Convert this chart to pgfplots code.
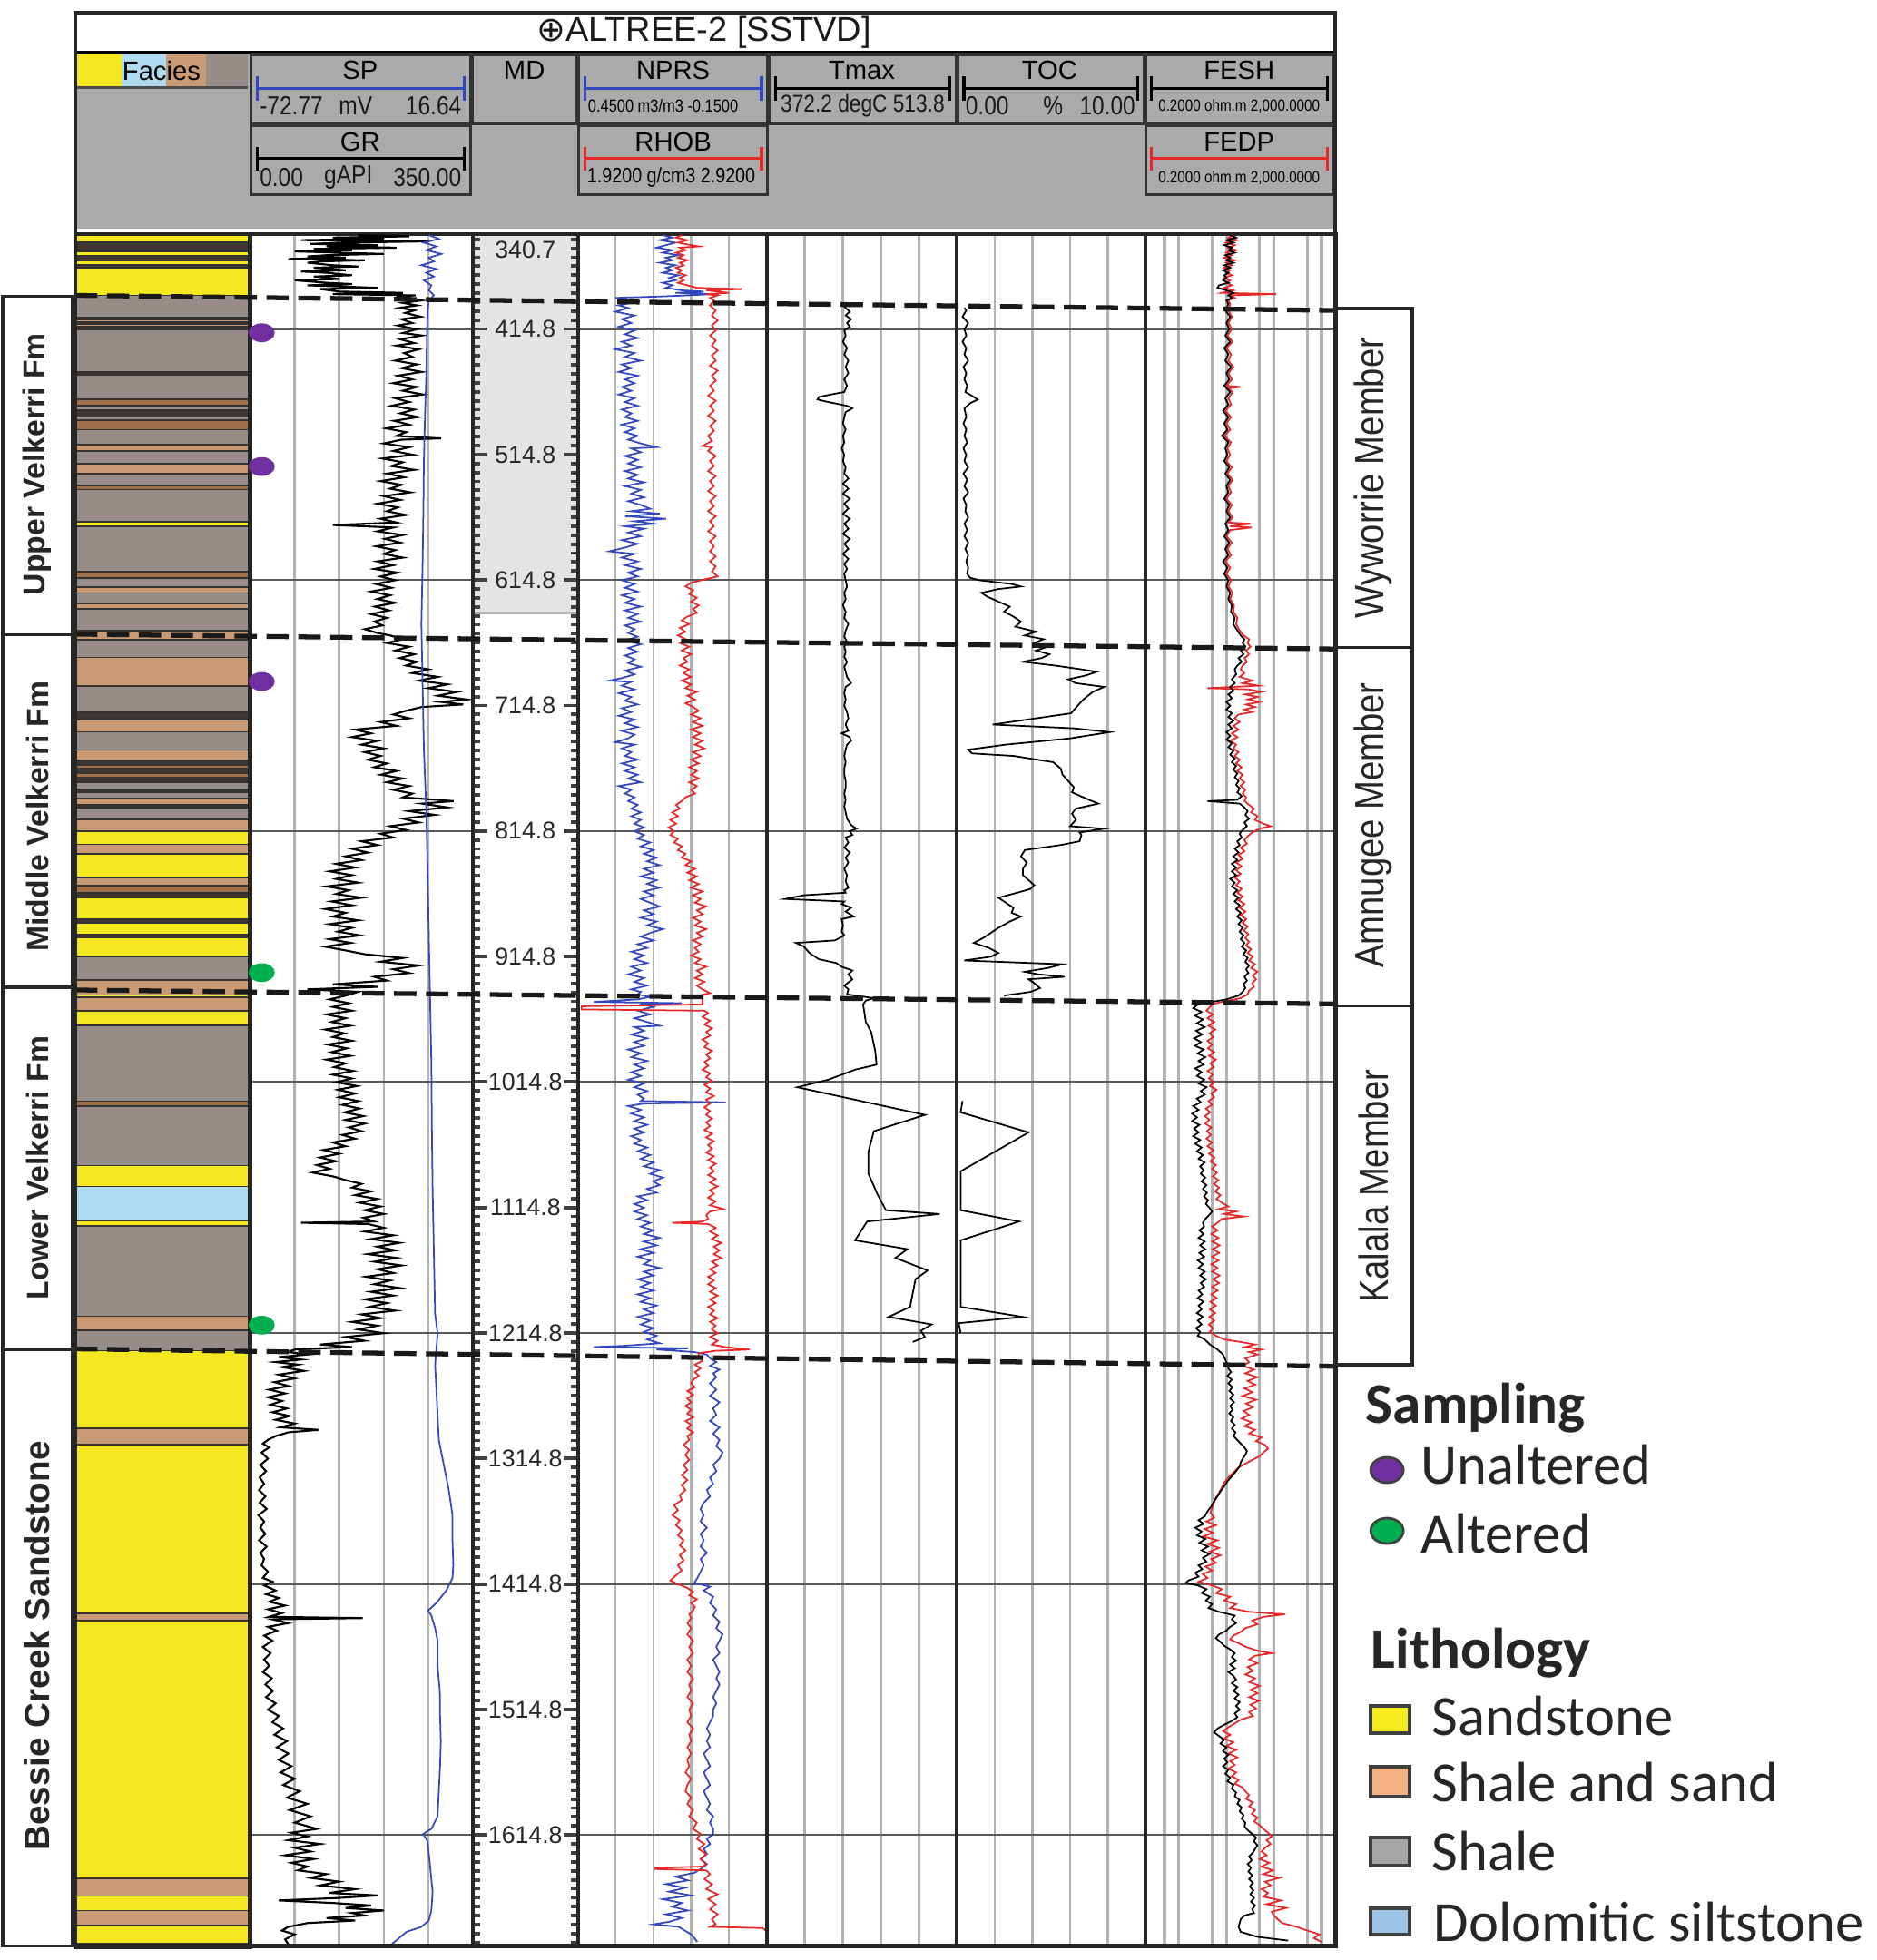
\documentclass[border=0pt]{standalone}
\usepackage{fontspec}
\setmainfont{Liberation Sans}
\newfontfamily\legfont{Carlito}
\newfontfamily\symfont{DejaVu Sans}
\newfontfamily\nar[FakeStretch=0.85]{Liberation Sans}
\usepackage{pgfplots}
\usepackage{pgfplotstable}
\pgfplotsset{compat=1.18}

\definecolor{hdgray}{RGB}{170,170,170}
\definecolor{gridlt}{RGB}{178,178,178}
\definecolor{mdgray}{RGB}{228,228,228}
\definecolor{cSand}{RGB}{245,232,30}
\definecolor{cTan}{RGB}{201,154,116}
\definecolor{cBrn}{RGB}{160,112,74}
\definecolor{cShl}{RGB}{150,141,137}
\definecolor{cDrk}{RGB}{62,54,48}
\definecolor{cDol}{RGB}{174,219,240}
\definecolor{cBlue}{RGB}{52,72,190}
\definecolor{cRed}{RGB}{232,40,40}
\definecolor{cPur}{RGB}{112,48,160}
\definecolor{cGrn}{RGB}{0,176,80}
\definecolor{lgSand}{RGB}{245,235,30}
\definecolor{lgSS}{RGB}{244,177,131}
\definecolor{lgShl}{RGB}{166,166,166}
\definecolor{lgDol}{RGB}{157,195,230}

\pgfplotsset{
  trk/.style={scale only axis, anchor=north west, height=18.878cm,
    y dir=reverse, ymin=339, ymax=1704,
    ytick={414.8,614.8,814.8,1014.8,1214.8,1414.8,1614.8},
    yticklabels={}, xticklabels={}, tick style={draw=none},
    xmajorgrids, ymajorgrids,
    x grid style={line width=0.7pt, color=gridlt},
    y grid style={line width=0.6pt, color=black!65},
    axis line style={line width=1.1pt, color=black!85}},
  ovl/.style={scale only axis, anchor=north west, height=18.878cm,
    y dir=reverse, ymin=339, ymax=1704, hide axis},
}
\newcommand{\lay}[3]{\addplot[fill=#1, draw=black!80, line width=0.5pt] coordinates {(0,#2) (1,#2) (1,#3) (0,#3)} -- cycle;}
\newcommand{\hdbox}[4]{\draw[fill=hdgray, draw=black!80, line width=0.9pt] (#1,#2) rectangle (#3,#4);}
\newcommand{\hdf}{\fontsize{8.3}{9}\selectfont}
\newcommand{\scf}{\nar\fontsize{8.2}{10}\selectfont}
\newcommand{\mdf}{\fontsize{7.6}{9}\selectfont}
\tikzset{sc/.style={font=\scf, inner sep=0.5pt, text=black!90}}

% gamma ray (gAPI) vs depth
\pgfplotstableread[row sep=\\]{
d v\\
340 170\\ 341 250\\ 342 130\\ 343 210\\ 344 80\\ 345 280\\ 346 150\\ 347 95\\ 348 200\\ 349 120\\ 350 230\\ 351 100\\ 352 160\\ 353 70\\ 354 140\\ 355 210\\ 356 120\\ 357 90\\ 358 150\\ 359 60\\ 360 180\\ 361 110\\ 362 90\\ 364 130\\ 365 170\\ 366 100\\ 368 150\\ 369 80\\ 370 120\\ 372 160\\ 373 100\\ 375 140\\ 376 70\\ 378 120\\ 379 160\\ 380 90\\ 382 200\\ 383 110\\ 385 140\\ 386 240\\ 387 130\\ 388 260\\ 389 230\\
390 250\\ 392 270\\ 394 240\\ 396 262\\ 398 235\\ 400 258\\ 402 244\\ 405 268\\ 407 238\\ 410 255\\ 412 232\\ 415 262\\ 418 240\\ 420 270\\ 423 236\\ 426 258\\ 428 230\\ 431 265\\ 434 242\\ 437 255\\ 440 228\\ 443 262\\ 446 238\\ 449 270\\ 452 232\\ 455 255\\ 458 225\\ 461 262\\ 464 240\\ 467 272\\ 470 228\\ 473 250\\ 476 222\\ 479 258\\ 482 236\\ 485 264\\ 488 226\\ 491 250\\ 494 214\\ 497 245\\ 500 230\\ 502 300\\ 503 238\\ 506 210\\ 509 250\\ 512 225\\ 515 256\\ 518 208\\ 521 240\\ 524 222\\ 527 258\\ 530 215\\ 533 242\\ 536 205\\ 539 238\\ 542 220\\ 545 252\\ 548 210\\ 551 236\\ 554 200\\ 557 232\\ 560 215\\ 563 245\\ 566 205\\ 569 230\\ 571 130\\ 573 225\\ 576 200\\ 579 240\\ 582 212\\ 585 236\\ 588 198\\ 591 228\\ 594 210\\ 597 240\\ 600 200\\ 603 225\\ 606 195\\ 609 232\\ 612 205\\ 615 228\\ 618 198\\ 621 222\\ 624 190\\ 627 220\\ 630 200\\ 633 228\\ 636 196\\ 639 218\\ 642 190\\ 645 215\\ 648 195\\ 651 208\\ 654 180\\ 657 200\\
659 220\\ 662 240\\ 665 215\\ 668 250\\ 671 228\\ 674 258\\ 677 235\\ 680 262\\ 683 245\\ 686 280\\ 689 255\\ 692 295\\ 695 265\\ 698 310\\ 701 280\\ 704 325\\ 707 295\\ 710 340\\ 712 300\\ 714 335\\ 716 270\\ 719 245\\ 722 225\\ 725 250\\ 728 205\\ 731 230\\ 734 165\\ 737 190\\ 740 160\\ 743 200\\ 746 175\\ 749 210\\ 752 180\\ 755 205\\ 758 185\\ 761 215\\ 764 195\\ 767 230\\ 770 205\\ 773 240\\ 776 215\\ 779 250\\ 782 225\\ 785 255\\ 788 240\\ 791 320\\ 793 270\\ 796 310\\ 799 250\\ 802 290\\ 805 240\\ 808 265\\ 811 220\\ 814 245\\ 817 205\\ 820 225\\ 823 175\\ 826 200\\ 829 160\\ 832 185\\ 835 150\\ 838 175\\ 841 135\\ 844 165\\ 847 125\\ 850 160\\ 853 135\\ 856 170\\ 859 120\\ 862 155\\ 865 135\\ 868 175\\ 871 128\\ 874 160\\ 877 118\\ 880 150\\ 883 130\\ 886 170\\ 889 125\\ 892 160\\ 895 138\\ 898 172\\ 901 125\\ 904 158\\ 907 118\\ 910 150\\ 913 180\\ 916 240\\ 919 205\\ 922 265\\ 925 225\\ 928 250\\ 931 195\\ 934 215\\ 937 130\\ 939 200\\ 941 90\\ 943 170\\
946 150\\ 949 125\\ 952 155\\ 955 130\\ 958 160\\ 961 120\\ 964 150\\ 967 128\\ 970 158\\ 973 118\\ 976 148\\ 979 130\\ 982 160\\ 985 122\\ 988 152\\ 991 128\\ 994 158\\ 997 120\\ 1000 150\\ 1003 132\\ 1006 162\\ 1009 130\\ 1012 160\\ 1015 135\\ 1018 168\\ 1021 138\\ 1024 165\\ 1027 140\\ 1030 170\\ 1033 145\\ 1036 172\\ 1039 148\\ 1042 178\\ 1045 150\\ 1048 180\\ 1051 155\\ 1054 175\\ 1057 145\\ 1060 165\\ 1063 130\\ 1066 150\\ 1069 115\\ 1072 140\\ 1075 110\\ 1078 135\\ 1081 105\\ 1084 125\\ 1087 98\\ 1090 130\\ 1093 150\\ 1096 175\\ 1099 160\\ 1102 190\\ 1105 165\\ 1108 200\\ 1111 172\\ 1114 205\\ 1117 180\\ 1120 210\\ 1123 178\\ 1126 195\\ 1127 80\\ 1128 185\\ 1131 210\\ 1134 180\\ 1137 225\\ 1140 190\\ 1143 235\\ 1146 200\\ 1149 228\\ 1152 185\\ 1155 230\\ 1158 195\\ 1161 238\\ 1164 200\\ 1167 225\\ 1170 182\\ 1173 220\\ 1176 195\\ 1179 235\\ 1182 190\\ 1185 225\\ 1188 180\\ 1191 215\\ 1194 188\\ 1197 228\\ 1200 175\\ 1203 205\\ 1206 160\\ 1209 200\\ 1212 170\\ 1215 210\\ 1218 150\\ 1221 180\\ 1224 110\\ 1226 160\\ 1228 70\\
1230 60\\ 1232 90\\ 1234 45\\ 1236 80\\ 1238 40\\ 1240 75\\ 1242 50\\ 1245 85\\ 1248 45\\ 1251 70\\ 1254 38\\ 1257 60\\ 1260 30\\ 1263 55\\ 1266 28\\ 1269 50\\ 1272 32\\ 1275 58\\ 1278 35\\ 1281 62\\ 1284 40\\ 1287 70\\ 1290 48\\ 1292 108\\ 1294 60\\ 1297 40\\ 1300 28\\ 1303 20\\ 1306 30\\ 1310 18\\ 1315 28\\ 1320 16\\ 1325 25\\ 1330 15\\ 1335 22\\ 1340 14\\ 1345 24\\ 1350 15\\ 1355 26\\ 1360 13\\ 1365 22\\ 1370 16\\ 1375 24\\ 1380 14\\ 1385 26\\ 1390 16\\ 1395 22\\ 1400 18\\ 1405 28\\ 1410 20\\ 1413 35\\ 1416 22\\ 1420 40\\ 1423 25\\ 1426 45\\ 1429 30\\ 1432 55\\ 1435 28\\ 1438 50\\ 1441 30\\ 1442 177\\ 1443 35\\ 1446 60\\ 1449 28\\ 1452 42\\ 1456 22\\ 1460 35\\ 1465 20\\ 1470 32\\ 1475 22\\ 1480 30\\ 1485 20\\ 1490 34\\ 1495 24\\ 1500 36\\ 1505 25\\ 1510 40\\ 1515 28\\ 1520 45\\ 1525 35\\ 1530 52\\ 1535 38\\ 1540 58\\ 1545 42\\ 1550 60\\ 1555 45\\ 1560 65\\ 1565 48\\ 1570 70\\ 1575 52\\ 1580 78\\ 1585 58\\ 1590 90\\ 1595 62\\ 1600 95\\ 1605 70\\ 1610 105\\ 1613 65\\ 1616 90\\ 1619 60\\ 1622 110\\ 1625 70\\ 1628 95\\ 1631 55\\ 1634 100\\ 1637 65\\ 1640 90\\ 1643 75\\ 1646 120\\ 1649 95\\ 1652 140\\ 1655 110\\ 1658 165\\ 1661 125\\ 1663 200\\ 1665 140\\ 1667 45\\ 1669 130\\ 1671 190\\ 1673 150\\ 1675 210\\ 1677 160\\ 1679 180\\ 1681 120\\ 1683 165\\ 1685 90\\ 1688 60\\ 1691 50\\ 1694 70\\ 1698 55\\ 1702 60\\
}\grtab

% spontaneous potential (mV)
\pgfplotstableread[row sep=\\]{
d v\\
340 -1\\ 343 3\\ 346 -3\\ 349 2\\ 352 -2\\ 355 4\\ 358 -1\\ 361 1\\ 364 -4\\ 367 2\\ 370 -2\\ 373 1\\ 376 -3\\ 380 0\\ 384 -1\\ 388 1\\ 392 -1\\ 400 -1.5\\ 420 -1.8\\ 450 -2\\ 480 -2.5\\ 520 -3\\ 560 -3.2\\ 600 -3.5\\ 650 -4\\ 700 -3.5\\ 750 -3\\ 800 -2\\ 850 -1.5\\ 900 -1\\ 950 -0.5\\ 1000 0\\ 1050 0.2\\ 1100 0.5\\ 1150 1\\ 1200 1.5\\ 1215 2.5\\ 1228 2\\ 1240 1.5\\ 1260 2\\ 1280 2.5\\ 1300 3\\ 1320 5\\ 1340 7\\ 1360 8.5\\ 1380 8.5\\ 1400 8.8\\ 1410 8.5\\ 1420 6\\ 1430 2\\ 1436 -1.3\\ 1440 0\\ 1450 1.5\\ 1460 2.5\\ 1480 2.5\\ 1500 3.4\\ 1520 3.5\\ 1540 3.8\\ 1560 3.5\\ 1580 3\\ 1600 2.5\\ 1610 0\\ 1614 -3.3\\ 1620 -1.5\\ 1640 -0.5\\ 1660 0.5\\ 1675 0\\ 1683 -1\\ 1688 -4\\ 1692 -10\\ 1697 -13\\ 1702 -16\\
}\sptab

% neutron porosity (m3/m3)
\pgfplotstableread[row sep=\\]{
d v\\
340 0.18\\ 342 0.15\\ 344 0.19\\ 346 0.14\\ 348 0.17\\ 350 0.2\\ 352 0.15\\ 354 0.18\\ 356 0.13\\ 358 0.17\\ 360 0.15\\ 362 0.19\\ 364 0.14\\ 366 0.17\\ 368 0.15\\ 370 0.18\\ 372 0.13\\ 374 0.16\\ 376 0.14\\ 378 0.18\\ 380 0.15\\ 382 0.17\\ 384 0.12\\ 385 0.05\\ 386 0.14\\ 387 0.02\\ 388 0.1\\ 389 0.2\\ 390 0.33\\ 391 0.3\\
392 0.31\\ 394 0.28\\ 396 0.32\\ 398 0.29\\ 401 0.33\\ 404 0.27\\ 407 0.31\\ 410 0.28\\ 413 0.32\\ 416 0.27\\ 419 0.30\\ 422 0.26\\ 425 0.31\\ 428 0.28\\ 431 0.33\\ 434 0.27\\ 437 0.30\\ 440 0.25\\ 443 0.31\\ 446 0.28\\ 449 0.32\\ 452 0.26\\ 455 0.30\\ 458 0.27\\ 461 0.31\\ 464 0.28\\ 467 0.32\\ 470 0.27\\ 473 0.30\\ 476 0.26\\ 479 0.31\\ 482 0.28\\ 485 0.30\\ 488 0.26\\ 491 0.31\\ 494 0.27\\ 497 0.30\\ 500 0.26\\ 503 0.29\\ 506 0.25\\ 509 0.20\\ 510 0.28\\ 513 0.25\\ 516 0.30\\ 519 0.26\\ 522 0.29\\ 525 0.25\\ 528 0.30\\ 531 0.26\\ 534 0.29\\ 537 0.24\\ 540 0.30\\ 543 0.25\\ 546 0.28\\ 549 0.24\\ 552 0.29\\ 555 0.25\\ 558 0.22\\ 560 0.28\\ 562 0.19\\ 564 0.30\\ 566 0.17\\ 568 0.27\\ 570 0.21\\ 572 0.30\\ 574 0.24\\ 577 0.29\\ 580 0.25\\ 583 0.31\\ 586 0.26\\ 589 0.30\\ 592 0.35\\ 594 0.27\\ 597 0.31\\ 600 0.26\\ 603 0.30\\ 606 0.25\\ 609 0.29\\ 612 0.26\\ 615 0.31\\ 618 0.27\\ 621 0.30\\ 624 0.26\\ 627 0.31\\ 630 0.27\\ 633 0.30\\ 636 0.25\\ 639 0.30\\ 642 0.26\\ 645 0.29\\ 648 0.25\\ 651 0.30\\ 654 0.27\\ 657 0.29\\
660 0.26\\ 663 0.30\\ 666 0.25\\ 669 0.29\\ 672 0.26\\ 675 0.30\\ 678 0.27\\ 681 0.29\\ 684 0.25\\ 687 0.30\\ 690 0.27\\ 693 0.31\\ 695 0.35\\ 696 0.28\\ 699 0.31\\ 702 0.27\\ 705 0.32\\ 708 0.28\\ 711 0.30\\ 714 0.26\\ 717 0.31\\ 720 0.28\\ 723 0.32\\ 726 0.27\\ 729 0.30\\ 732 0.26\\ 735 0.31\\ 738 0.27\\ 741 0.29\\ 744 0.33\\ 746 0.27\\ 749 0.31\\ 752 0.28\\ 755 0.30\\ 758 0.26\\ 761 0.31\\ 764 0.27\\ 767 0.30\\ 770 0.26\\ 773 0.29\\ 776 0.25\\ 779 0.32\\ 782 0.28\\ 785 0.30\\ 788 0.27\\ 791 0.29\\ 794 0.26\\ 797 0.28\\ 800 0.25\\ 803 0.28\\ 806 0.25\\ 809 0.27\\ 812 0.24\\ 815 0.27\\ 818 0.24\\ 821 0.26\\ 824 0.22\\ 827 0.25\\ 830 0.21\\ 833 0.24\\ 836 0.20\\ 839 0.23\\ 842 0.19\\ 845 0.24\\ 848 0.21\\ 851 0.25\\ 854 0.20\\ 857 0.23\\ 860 0.19\\ 863 0.24\\ 866 0.21\\ 869 0.25\\ 872 0.22\\ 875 0.19\\ 878 0.24\\ 881 0.21\\ 884 0.25\\ 887 0.20\\ 890 0.23\\ 893 0.18\\ 896 0.22\\ 899 0.25\\ 902 0.21\\ 905 0.26\\ 908 0.23\\ 911 0.28\\ 914 0.24\\ 917 0.27\\ 920 0.23\\ 923 0.28\\ 926 0.25\\ 929 0.29\\ 932 0.24\\ 935 0.27\\ 938 0.23\\ 941 0.28\\ 943 0.25\\ 945 0.26\\ 947 0.22\\ 949 0.26\\ 951 0.40\\ 952 0.12\\ 953 0.24\\
955 0.21\\ 958 0.26\\ 961 0.22\\ 964 0.27\\ 967 0.23\\ 970 0.19\\ 971 0.27\\ 974 0.24\\ 977 0.28\\ 980 0.23\\ 983 0.27\\ 986 0.24\\ 989 0.29\\ 992 0.25\\ 995 0.28\\ 998 0.23\\ 1001 0.27\\ 1004 0.24\\ 1007 0.28\\ 1010 0.25\\ 1013 0.29\\ 1016 0.24\\ 1019 0.27\\ 1022 0.23\\ 1025 0.26\\ 1028 0.24\\ 1030 0.25\\ 1031 -0.02\\ 1032 0.24\\ 1034 0.29\\ 1037 0.25\\ 1040 0.28\\ 1043 0.24\\ 1046 0.27\\ 1049 0.23\\ 1052 0.27\\ 1055 0.24\\ 1058 0.28\\ 1061 0.25\\ 1064 0.27\\ 1067 0.23\\ 1070 0.26\\ 1073 0.22\\ 1076 0.25\\ 1079 0.21\\ 1082 0.24\\ 1085 0.19\\ 1088 0.22\\ 1091 0.18\\ 1094 0.21\\ 1097 0.19\\ 1100 0.23\\ 1103 0.20\\ 1106 0.26\\ 1109 0.23\\ 1112 0.27\\ 1115 0.24\\ 1118 0.27\\ 1121 0.23\\ 1124 0.26\\ 1127 0.22\\ 1130 0.25\\ 1133 0.21\\ 1136 0.24\\ 1139 0.19\\ 1142 0.24\\ 1145 0.20\\ 1148 0.25\\ 1151 0.21\\ 1154 0.26\\ 1157 0.22\\ 1160 0.24\\ 1163 0.19\\ 1166 0.24\\ 1169 0.21\\ 1172 0.26\\ 1175 0.22\\ 1178 0.25\\ 1181 0.21\\ 1184 0.26\\ 1187 0.22\\ 1190 0.25\\ 1193 0.20\\ 1196 0.24\\ 1199 0.21\\ 1202 0.26\\ 1205 0.22\\ 1208 0.25\\ 1211 0.21\\ 1214 0.24\\ 1217 0.20\\ 1220 0.23\\ 1223 0.19\\ 1225 0.30\\ 1226 0.40\\ 1227 0.10\\ 1228 0.20\\
1230 0.08\\ 1232 0.04\\ 1235 0.03\\ 1238 0.01\\ 1241 0.03\\ 1244 0.0\\ 1247 0.02\\ 1250 0.01\\ 1255 0.03\\ 1260 0.01\\ 1265 0.03\\ 1270 0.0\\ 1275 0.02\\ 1280 0.01\\ 1285 0.03\\ 1290 0.0\\ 1295 0.02\\ 1300 0.0\\ 1305 0.01\\ 1310 -0.01\\ 1315 0.0\\ 1320 0.02\\ 1325 0.01\\ 1330 0.03\\ 1335 0.02\\ 1340 0.04\\ 1345 0.03\\ 1350 0.05\\ 1355 0.06\\ 1360 0.05\\ 1365 0.06\\ 1370 0.04\\ 1375 0.06\\ 1380 0.05\\ 1385 0.06\\ 1390 0.04\\ 1395 0.06\\ 1400 0.05\\ 1405 0.06\\ 1410 0.07\\ 1414 0.08\\ 1417 0.03\\ 1420 0.05\\ 1425 0.02\\ 1430 0.03\\ 1435 0.01\\ 1440 0.02\\ 1445 0.0\\ 1450 0.01\\ 1455 -0.01\\ 1460 0.0\\ 1465 0.01\\ 1470 0.0\\ 1475 0.02\\ 1480 0.01\\ 1485 0.0\\ 1490 0.01\\ 1495 0.0\\ 1500 0.01\\ 1505 0.02\\ 1510 0.01\\ 1515 0.02\\ 1520 0.02\\ 1525 0.03\\ 1530 0.04\\ 1535 0.03\\ 1540 0.04\\ 1545 0.03\\ 1550 0.05\\ 1555 0.04\\ 1560 0.03\\ 1565 0.05\\ 1570 0.04\\ 1575 0.03\\ 1580 0.05\\ 1585 0.04\\ 1590 0.03\\ 1595 0.04\\ 1600 0.02\\ 1605 0.03\\ 1610 0.02\\ 1614 0.02\\ 1618 0.04\\ 1622 0.03\\ 1626 0.05\\ 1630 0.04\\ 1634 0.06\\ 1638 0.04\\ 1642 0.06\\ 1645 0.08\\ 1648 0.14\\ 1651 0.10\\ 1654 0.17\\ 1657 0.11\\ 1660 0.16\\ 1663 0.09\\ 1666 0.18\\ 1669 0.12\\ 1672 0.15\\ 1675 0.10\\ 1678 0.17\\ 1681 0.12\\ 1684 0.16\\ 1686 0.21\\ 1688 0.13\\ 1691 0.11\\ 1694 0.09\\ 1697 0.08\\ 1700 0.07\\
}\nprstab

% bulk density (g/cm3)
\pgfplotstableread[row sep=\\]{
d v\\
340 2.47\\ 342 2.44\\ 344 2.50\\ 346 2.45\\ 348 2.52\\ 349 2.56\\ 350 2.46\\ 352 2.49\\ 354 2.44\\ 356 2.48\\ 358 2.45\\ 360 2.50\\ 362 2.46\\ 364 2.48\\ 366 2.44\\ 368 2.47\\ 370 2.45\\ 372 2.49\\ 374 2.46\\ 376 2.48\\ 378 2.45\\ 380 2.5\\ 382 2.55\\ 383 2.79\\ 384 2.6\\ 386 2.72\\ 387 2.6\\ 388 2.66\\ 390 2.62\\
392 2.64\\ 396 2.62\\ 400 2.65\\ 404 2.63\\ 408 2.66\\ 412 2.63\\ 416 2.65\\ 420 2.62\\ 424 2.65\\ 428 2.63\\ 432 2.66\\ 436 2.63\\ 440 2.65\\ 444 2.62\\ 448 2.66\\ 452 2.63\\ 456 2.65\\ 460 2.62\\ 464 2.64\\ 468 2.61\\ 472 2.65\\ 476 2.62\\ 480 2.64\\ 484 2.61\\ 488 2.65\\ 492 2.62\\ 496 2.64\\ 500 2.61\\ 504 2.63\\ 508 2.58\\ 509 2.63\\ 512 2.61\\ 516 2.65\\ 520 2.62\\ 524 2.64\\ 528 2.61\\ 532 2.65\\ 536 2.62\\ 540 2.64\\ 544 2.61\\ 548 2.65\\ 552 2.62\\ 556 2.64\\ 560 2.61\\ 564 2.65\\ 568 2.62\\ 572 2.64\\ 576 2.61\\ 580 2.65\\ 584 2.62\\ 588 2.64\\ 592 2.62\\ 596 2.65\\ 600 2.62\\ 604 2.65\\ 608 2.63\\ 612 2.66\\ 614 2.60\\ 617 2.52\\ 620 2.49\\ 623 2.53\\ 626 2.51\\ 629 2.55\\ 632 2.52\\ 635 2.56\\ 638 2.53\\ 641 2.55\\ 644 2.50\\ 647 2.47\\ 650 2.51\\ 653 2.46\\ 656 2.49\\ 659 2.45\\
662 2.49\\ 665 2.46\\ 668 2.51\\ 671 2.47\\ 674 2.52\\ 677 2.48\\ 680 2.50\\ 683 2.46\\ 686 2.51\\ 689 2.48\\ 692 2.52\\ 695 2.47\\ 698 2.52\\ 701 2.49\\ 704 2.55\\ 707 2.50\\ 710 2.54\\ 713 2.49\\ 716 2.53\\ 719 2.56\\ 722 2.52\\ 725 2.57\\ 728 2.53\\ 731 2.58\\ 734 2.52\\ 737 2.57\\ 740 2.53\\ 743 2.58\\ 746 2.54\\ 749 2.59\\ 752 2.53\\ 755 2.57\\ 758 2.52\\ 761 2.56\\ 764 2.51\\ 767 2.55\\ 770 2.52\\ 773 2.56\\ 776 2.51\\ 779 2.55\\ 782 2.52\\ 785 2.54\\ 788 2.49\\ 791 2.47\\ 794 2.44\\ 797 2.46\\ 800 2.42\\ 803 2.45\\ 806 2.41\\ 809 2.44\\ 812 2.40\\ 815 2.43\\ 818 2.41\\ 821 2.45\\ 824 2.43\\ 827 2.47\\ 830 2.45\\ 833 2.49\\ 836 2.47\\ 839 2.52\\ 842 2.49\\ 845 2.54\\ 848 2.50\\ 851 2.55\\ 854 2.51\\ 857 2.56\\ 860 2.52\\ 863 2.58\\ 866 2.53\\ 869 2.57\\ 872 2.54\\ 875 2.60\\ 878 2.55\\ 881 2.58\\ 884 2.53\\ 887 2.57\\ 890 2.54\\ 893 2.60\\ 896 2.55\\ 899 2.58\\ 902 2.53\\ 905 2.57\\ 908 2.54\\ 911 2.56\\ 914 2.52\\ 917 2.57\\ 920 2.54\\ 923 2.60\\ 926 2.55\\ 929 2.58\\ 932 2.54\\ 935 2.59\\ 938 2.55\\ 941 2.58\\ 944 2.62\\ 946 2.56\\ 949 2.58\\ 953 2.58\\ 954.5 1.94\\ 957 1.94\\ 958 2.59\\
960 2.61\\ 963 2.58\\ 966 2.62\\ 969 2.59\\ 972 2.63\\ 975 2.60\\ 978 2.62\\ 981 2.58\\ 984 2.61\\ 987 2.59\\ 990 2.63\\ 993 2.60\\ 996 2.62\\ 999 2.59\\ 1002 2.61\\ 1005 2.58\\ 1008 2.62\\ 1011 2.60\\ 1014 2.63\\ 1017 2.59\\ 1020 2.62\\ 1023 2.60\\ 1026 2.64\\ 1029 2.60\\ 1032 2.62\\ 1035 2.59\\ 1038 2.62\\ 1041 2.60\\ 1044 2.63\\ 1047 2.60\\ 1050 2.62\\ 1053 2.59\\ 1056 2.63\\ 1059 2.60\\ 1062 2.64\\ 1065 2.61\\ 1068 2.63\\ 1071 2.60\\ 1074 2.64\\ 1077 2.61\\ 1080 2.65\\ 1083 2.62\\ 1086 2.64\\ 1089 2.61\\ 1092 2.65\\ 1095 2.62\\ 1098 2.66\\ 1101 2.62\\ 1104 2.64\\ 1107 2.61\\ 1110 2.65\\ 1113 2.62\\ 1116 2.69\\ 1118 2.62\\ 1121 2.60\\ 1124 2.61\\ 1126 2.58\\ 1127 2.42\\ 1128 2.61\\ 1131 2.65\\ 1134 2.62\\ 1137 2.66\\ 1140 2.63\\ 1143 2.68\\ 1146 2.64\\ 1149 2.67\\ 1152 2.64\\ 1155 2.68\\ 1158 2.63\\ 1161 2.66\\ 1164 2.62\\ 1167 2.65\\ 1170 2.61\\ 1173 2.64\\ 1176 2.61\\ 1179 2.65\\ 1182 2.62\\ 1185 2.66\\ 1188 2.62\\ 1191 2.65\\ 1194 2.61\\ 1197 2.64\\ 1200 2.62\\ 1203 2.66\\ 1206 2.62\\ 1209 2.65\\ 1212 2.63\\ 1215 2.66\\ 1218 2.62\\ 1221 2.66\\ 1224 2.63\\ 1226 2.70\\ 1228 2.83\\ 1229 2.65\\ 1231 2.56\\
1234 2.56\\ 1237 2.58\\ 1240 2.54\\ 1243 2.57\\ 1246 2.54\\ 1249 2.56\\ 1252 2.53\\ 1255 2.52\\ 1258 2.54\\ 1261 2.50\\ 1264 2.53\\ 1267 2.50\\ 1270 2.52\\ 1273 2.49\\ 1276 2.52\\ 1279 2.50\\ 1282 2.53\\ 1285 2.49\\ 1288 2.52\\ 1291 2.50\\ 1294 2.53\\ 1297 2.50\\ 1300 2.51\\ 1304 2.48\\ 1308 2.51\\ 1312 2.49\\ 1316 2.51\\ 1320 2.48\\ 1324 2.50\\ 1328 2.47\\ 1332 2.50\\ 1336 2.47\\ 1340 2.49\\ 1344 2.46\\ 1348 2.47\\ 1352 2.43\\ 1356 2.45\\ 1360 2.42\\ 1364 2.46\\ 1368 2.44\\ 1372 2.47\\ 1376 2.45\\ 1380 2.48\\ 1384 2.46\\ 1388 2.49\\ 1392 2.46\\ 1396 2.48\\ 1400 2.45\\ 1404 2.47\\ 1408 2.44\\ 1412 2.41\\ 1415 2.45\\ 1418 2.50\\ 1421 2.53\\ 1424 2.51\\ 1427 2.55\\ 1430 2.52\\ 1433 2.54\\ 1436 2.53\\ 1439 2.51\\ 1442 2.52\\ 1446 2.50\\ 1450 2.52\\ 1455 2.50\\ 1460 2.53\\ 1465 2.51\\ 1470 2.53\\ 1475 2.50\\ 1480 2.52\\ 1485 2.50\\ 1490 2.53\\ 1495 2.51\\ 1500 2.52\\ 1505 2.50\\ 1510 2.53\\ 1515 2.51\\ 1520 2.52\\ 1525 2.50\\ 1530 2.53\\ 1535 2.51\\ 1540 2.52\\ 1545 2.50\\ 1550 2.52\\ 1555 2.50\\ 1560 2.51\\ 1565 2.49\\ 1570 2.52\\ 1575 2.50\\ 1580 2.49\\ 1585 2.52\\ 1590 2.50\\ 1595 2.53\\ 1600 2.51\\ 1605 2.55\\ 1610 2.53\\ 1614 2.57\\ 1618 2.55\\ 1622 2.59\\ 1626 2.56\\ 1630 2.60\\ 1634 2.57\\ 1638 2.60\\ 1640 2.58\\ 1641 2.33\\ 1642 2.33\\ 1643 2.60\\ 1646 2.62\\ 1650 2.59\\ 1654 2.63\\ 1658 2.60\\ 1662 2.66\\ 1666 2.61\\ 1670 2.65\\ 1674 2.62\\ 1678 2.66\\ 1682 2.63\\ 1686 2.65\\ 1688 2.62\\ 1689 2.90\\ 1692 2.92\\
}\rhobtab

% Tmax (degC)
\pgfplotstableread[row sep=\\]{
d v\\
395 428\\ 398 431\\ 401 434\\ 404 431\\ 407 435\\ 410 432\\ 413 434\\ 416 430\\ 420 431\\ 425 429\\ 430 432\\ 435 430\\ 440 433\\ 445 431\\ 450 433\\ 455 430\\ 460 432\\ 465 430\\ 467 420\\ 469 411\\ 471 410\\ 473 418\\ 476 432\\ 478 436\\ 481 431\\ 485 430\\ 490 429\\ 495 431\\ 500 429\\ 505 430\\ 510 428\\ 515 430\\ 520 429\\ 525 431\\ 530 430\\ 534 433\\ 538 429\\ 542 433\\ 546 429\\ 550 434\\ 554 430\\ 558 433\\ 562 429\\ 566 434\\ 570 430\\ 574 433\\ 578 429\\ 582 434\\ 586 430\\ 590 433\\ 594 429\\ 598 433\\ 602 430\\ 606 432\\ 610 430\\ 615 431\\ 620 432\\ 625 430\\ 630 431\\ 635 429\\ 640 431\\ 645 430\\ 650 433\\ 655 431\\ 660 430\\ 664 432\\ 668 430\\ 672 431\\ 676 430\\ 680 432\\ 684 430\\ 688 431\\ 692 432\\ 697 435\\ 700 431\\ 705 430\\ 710 431\\ 715 430\\ 720 432\\ 725 433\\ 730 431\\ 735 433\\ 737 428\\ 740 434\\ 743 435\\ 746 432\\ 750 431\\ 755 430\\ 760 431\\ 765 430\\ 770 430\\ 775 431\\ 780 431\\ 785 430\\ 790 431\\ 795 430\\ 800 431\\ 805 432\\ 810 435\\ 813 439\\ 815 434\\ 818 436\\ 820 431\\ 824 433\\ 828 430\\ 832 434\\ 836 431\\ 840 433\\ 845 430\\ 850 432\\ 855 431\\ 860 433\\ 862 430\\ 864 431\\ 866 400\\ 869 386\\ 871 430\\ 873 428\\ 876 435\\ 879 431\\ 883 437\\ 885 428\\ 890 429\\ 895 428\\ 898 430\\ 902 423\\ 904 394\\ 907 400\\ 912 404\\ 917 411\\ 920 424\\ 923 428\\ 926 436\\ 929 433\\ 933 436\\ 938 430\\ 941 433\\ 945 432\\ 948 452\\ 950 446\\ 953 444\\ 967 446\\ 975 450\\ 990 453\\ 1001 454\\ 1005 438\\ 1013 418\\ 1019 395\\ 1041 490\\ 1054 452\\ 1070 448\\ 1088 448\\ 1105 455\\ 1117 461\\ 1120 501\\ 1126 447\\ 1141 438\\ 1148 477\\ 1155 468\\ 1165 492\\ 1172 483\\ 1183 481\\ 1194 479\\ 1202 463\\ 1208 495\\ 1213 487\\ 1218 490\\ 1222 481\\
}\tmaxtab

% TOC (%), upper and middle
\pgfplotstableread[row sep=\\]{
d v\\
398 0.4\\ 400 0.5\\ 405 0.3\\ 410 0.6\\ 415 0.4\\ 420 0.5\\ 425 0.3\\ 430 0.5\\ 435 0.4\\ 440 0.6\\ 445 0.35\\ 450 0.5\\ 455 0.4\\ 460 0.55\\ 465 0.45\\ 468 0.8\\ 471 1.1\\ 474 0.7\\ 478 0.4\\ 485 0.5\\ 490 0.35\\ 495 0.5\\ 500 0.4\\ 505 0.55\\ 510 0.35\\ 515 0.5\\ 520 0.4\\ 525 0.6\\ 530 0.35\\ 535 0.55\\ 540 0.4\\ 545 0.6\\ 550 0.35\\ 555 0.5\\ 560 0.45\\ 565 0.6\\ 570 0.4\\ 575 0.55\\ 580 0.4\\ 585 0.6\\ 590 0.45\\ 595 0.6\\ 600 0.5\\ 605 0.6\\ 610 0.55\\ 613 0.7\\ 615 1.2\\ 618 2.9\\ 620 3.4\\ 622 2.2\\ 625 1.3\\ 628 1.6\\ 632 2.2\\ 636 2.8\\ 640 2.5\\ 644 3.0\\ 648 3.4\\ 652 3.1\\ 656 4.2\\ 659 3.6\\ 662 4.6\\ 665 4.1\\ 668 4.8\\ 671 4.2\\ 674 4.9\\ 677 4.5\\ 680 3.5\\ 683 5.2\\ 686 6.6\\ 688 7.4\\ 691 6.8\\ 694 5.9\\ 697 6.3\\ 700 7.8\\ 704 7.2\\ 710 6.7\\ 715 6.4\\ 721 6.05\\ 730 1.9\\ 733 6.2\\ 736 8.1\\ 741 6.0\\ 746 2.6\\ 750 0.6\\ 753 0.8\\ 755 3.0\\ 760 5.1\\ 765 5.5\\ 770 5.6\\ 775 5.9\\ 780 6.2\\ 784 6.1\\ 790 7.0\\ 793 7.5\\ 797 6.3\\ 801 6.1\\ 806 6.3\\ 811 6.0\\ 813 7.8\\ 816 6.5\\ 818 6.6\\ 823 6.5\\ 826 5.5\\ 830 3.6\\ 835 3.4\\ 840 3.7\\ 845 3.5\\ 850 3.5\\ 854 3.8\\ 858 4.1\\ 861 3.9\\ 864 3.2\\ 868 2.2\\ 872 2.6\\ 876 3.0\\ 880 2.9\\ 883 3.4\\ 887 2.8\\ 892 2.2\\ 897 1.7\\ 900 1.4\\ 904 0.9\\ 908 1.7\\ 912 2.2\\ 915 1.8\\ 918 0.4\\ 921 5.6\\ 924 4.8\\ 927 3.6\\ 929 4.3\\ 931 5.7\\ 933 3.8\\ 936 4.1\\ 940 4.4\\ 943 3.9\\ 946 2.5\\
}\toctaba

% TOC (%), lower
\pgfplotstableread[row sep=\\]{
d v\\
1030 0.3\\ 1039 0.2\\ 1055 3.8\\ 1086 0.2\\ 1117 0.2\\ 1126 3.3\\ 1141 0.2\\ 1194 0.2\\ 1202 3.5\\ 1207 0.1\\ 1215 0.2\\
}\toctabb

% FESH (ohm.m)
\pgfplotstableread[row sep=\\]{
d v\\
340 12\\ 342 16\\ 344 10\\ 346 14\\ 348 9\\ 350 13\\ 352 11\\ 354 15\\ 356 9.5\\ 358 12\\ 360 10\\ 362 14\\ 364 9\\ 366 12\\ 368 8.5\\ 370 11\\ 372 9\\ 374 10\\ 376 8.5\\ 378 11\\ 380 7\\ 382 6.5\\ 384 10\\ 386 14\\ 388 11\\ 390 13\\ 392 10\\
395 11\\ 400 9.5\\ 405 12\\ 410 10\\ 415 11.5\\ 420 9.5\\ 425 12\\ 430 9\\ 435 11\\ 440 9.5\\ 445 12.5\\ 450 10\\ 455 11.5\\ 460 9\\ 465 12\\ 470 9.5\\ 475 11\\ 480 8.5\\ 485 11\\ 490 9\\ 495 10.5\\ 500 8\\ 505 11\\ 510 9.5\\ 515 10.5\\ 520 9\\ 525 11.5\\ 530 9.5\\ 535 12\\ 540 10\\ 545 11\\ 550 9\\ 555 11.5\\ 560 10\\ 565 12\\ 570 9.5\\ 575 11\\ 580 9\\ 585 11.5\\ 590 9.5\\ 595 11\\ 600 8.5\\ 605 10.5\\ 610 9\\ 615 11\\ 620 10\\ 625 12\\ 630 11\\ 635 13\\ 640 12.5\\ 645 15\\ 650 14\\ 655 17\\ 659 20\\ 662 24\\
665 22\\ 668 25\\ 671 20\\ 674 23\\ 677 18\\ 680 21\\ 683 17\\ 686 15\\ 690 16\\ 694 13\\ 697 15\\ 700 12\\ 703 14\\ 706 11\\ 709 13\\ 712 10\\ 715 12\\ 718 10\\ 721 13\\ 724 11\\ 727 14\\ 730 11\\ 733 13\\ 736 10\\ 739 12\\ 742 10\\ 745 13\\ 748 11\\ 751 14\\ 754 12\\ 757 15\\ 760 13\\ 763 16\\ 766 14\\ 769 17\\ 772 15\\ 775 18\\ 778 16\\ 781 19\\ 784 17\\ 787 21\\ 790 17\\ 791 4\\ 793 19\\ 796 24\\ 799 28\\ 802 25\\ 805 30\\ 808 24\\ 811 27\\ 814 22\\ 817 19\\ 820 21\\ 823 17\\ 826 19\\ 829 15\\ 832 18\\ 835 14\\ 838 17\\ 841 13\\ 844 16\\ 847 13\\ 850 16\\ 853 12\\ 856 15\\ 859 13\\ 862 17\\ 865 14\\ 868 18\\ 871 15\\ 874 19\\ 877 16\\ 880 20\\ 883 17\\ 886 21\\ 889 18\\ 892 22\\ 895 19\\ 898 23\\ 901 20\\ 904 24\\ 907 21\\ 910 26\\ 913 23\\ 916 28\\ 919 25\\ 922 30\\ 925 26\\ 928 29\\ 931 24\\ 934 27\\ 937 23\\ 940 25\\ 943 22\\ 946 18\\ 949 10\\ 951 5\\ 953 2.5\\
956 2.0\\ 959 3.0\\ 962 2.2\\ 965 3.2\\ 968 2.4\\ 971 3.5\\ 974 2.3\\ 977 3.1\\ 980 2.1\\ 983 2.9\\ 986 2.2\\ 989 3.3\\ 992 2.5\\ 995 3.6\\ 998 2.6\\ 1001 3.3\\ 1004 2.2\\ 1007 3.0\\ 1010 2.4\\ 1013 3.4\\ 1016 2.6\\ 1019 3.8\\ 1022 2.9\\ 1025 3.5\\ 1028 2.4\\ 1031 2.9\\ 1034 2.0\\ 1037 2.6\\ 1040 1.9\\ 1043 2.4\\ 1046 1.9\\ 1049 2.7\\ 1052 2.1\\ 1055 2.6\\ 1058 2.0\\ 1061 2.8\\ 1064 2.2\\ 1067 3.0\\ 1070 2.4\\ 1073 3.2\\ 1076 2.6\\ 1079 3.5\\ 1082 2.8\\ 1085 3.3\\ 1088 2.9\\ 1091 3.6\\ 1094 3.0\\ 1097 3.8\\ 1100 3.2\\ 1103 3.9\\ 1106 3.4\\ 1109 4.1\\ 1112 3.7\\ 1115 4.4\\ 1118 5.0\\ 1121 4.3\\ 1124 3.6\\ 1127 3.2\\ 1130 3.4\\ 1133 2.7\\ 1136 3.3\\ 1139 2.6\\ 1142 3.5\\ 1145 2.8\\ 1148 3.6\\ 1151 2.7\\ 1154 3.4\\ 1157 2.5\\ 1160 3.2\\ 1163 2.6\\ 1166 3.5\\ 1169 2.8\\ 1172 3.7\\ 1175 2.9\\ 1178 3.4\\ 1181 2.6\\ 1184 3.1\\ 1187 2.5\\ 1190 3.3\\ 1193 2.6\\ 1196 3.0\\ 1199 2.4\\ 1202 3.2\\ 1205 2.5\\ 1208 3.0\\ 1211 2.3\\ 1214 2.8\\ 1217 2.5\\ 1220 3.5\\ 1224 4.5\\ 1228 6.5\\ 1232 8.5\\ 1236 9.5\\ 1240 10.5\\
1243 11\\ 1246 12.5\\ 1249 10.5\\ 1252 13\\ 1255 11\\ 1258 13.5\\ 1261 11.5\\ 1264 14\\ 1267 12\\ 1270 14.5\\ 1273 12\\ 1276 13.5\\ 1279 11.5\\ 1282 14\\ 1285 12.5\\ 1288 15\\ 1291 13\\ 1294 15.5\\ 1297 14\\ 1300 17\\ 1303 20\\ 1306 24\\ 1309 27\\ 1312 25\\ 1315 22\\ 1318 20\\ 1321 19\\ 1325 16\\ 1329 13\\ 1333 10.5\\ 1337 9\\ 1341 7.5\\ 1345 6.5\\ 1349 5.5\\ 1353 4.8\\ 1357 4.0\\ 1361 3.5\\ 1364 2.6\\ 1367 3.3\\ 1370 2.2\\ 1373 3.0\\ 1376 2.4\\ 1379 3.6\\ 1382 2.7\\ 1385 4.1\\ 1388 3.0\\ 1391 4.4\\ 1394 3.2\\ 1397 3.8\\ 1400 2.6\\ 1403 3.1\\ 1406 2.2\\ 1409 2.6\\ 1412 1.6\\ 1414 1.4\\ 1416 2.5\\ 1419 3.8\\ 1422 3.0\\ 1425 4.5\\ 1428 3.7\\ 1431 5.0\\ 1434 4.2\\ 1437 7\\ 1440 15\\ 1443 13\\ 1446 16\\ 1449 12\\ 1452 10\\ 1455 7\\ 1458 6\\ 1461 7.5\\ 1464 9\\ 1467 12\\ 1470 15\\ 1473 13\\ 1476 16\\ 1479 12\\ 1482 15\\ 1485 11\\ 1488 14\\ 1491 16\\ 1494 13\\ 1497 17\\ 1500 14\\ 1503 18\\ 1506 15\\ 1509 19\\ 1512 16\\ 1515 19\\ 1518 15\\ 1521 17\\ 1524 13\\ 1527 9\\ 1530 6.5\\ 1533 5.5\\ 1536 7\\ 1539 9\\ 1542 7.5\\ 1545 10\\ 1548 8.5\\ 1551 11\\ 1554 9\\ 1557 10.5\\ 1560 8.5\\ 1563 11\\ 1566 9.5\\ 1569 12\\ 1572 10.5\\ 1575 14\\ 1578 13\\ 1581 16\\ 1584 15\\ 1587 19\\ 1590 17\\ 1593 21\\ 1596 19\\ 1599 23\\ 1602 21\\ 1605 25\\ 1608 24\\ 1611 28\\ 1614 35\\ 1617 42\\ 1620 38\\ 1623 45\\ 1626 40\\ 1629 36\\ 1632 30\\ 1635 34\\ 1638 28\\ 1641 33\\ 1644 29\\ 1647 35\\ 1650 30\\ 1653 36\\ 1656 31\\ 1659 37\\ 1662 32\\ 1665 38\\ 1668 33\\ 1671 40\\ 1674 35\\ 1677 38\\ 1679 24\\ 1682 20\\ 1685 19\\ 1688 18\\ 1692 20\\ 1696 45\\ 1699 200\\
}\feshtab

% FEDP (ohm.m)
\pgfplotstableread[row sep=\\]{
d v\\
340 14\\ 342 11\\ 344 17\\ 346 10\\ 348 15\\ 350 11\\ 352 16\\ 354 10\\ 356 13\\ 358 9\\ 360 15\\ 362 10\\ 364 13\\ 366 9\\ 368 12\\ 370 10\\ 372 13\\ 374 9\\ 376 12\\ 378 10\\ 380 13\\ 382 9\\ 384 14\\ 386 8\\ 387 110\\ 388 12\\ 390 15\\ 392 11\\
395 12\\ 400 11\\ 405 13\\ 410 11\\ 415 13\\ 420 10.5\\ 425 13.5\\ 430 10\\ 435 12.5\\ 440 11\\ 445 14\\ 450 11\\ 455 13\\ 460 10\\ 461 20\\ 462 11\\ 465 13.5\\ 470 11\\ 475 12.5\\ 480 9.5\\ 485 12.5\\ 490 10\\ 495 12\\ 500 9\\ 505 12.5\\ 510 10.5\\ 515 12\\ 520 10\\ 525 13\\ 530 10.5\\ 535 13.5\\ 540 11\\ 545 12.5\\ 550 10\\ 555 13\\ 560 11\\ 565 13.5\\ 569 11\\ 570 32\\ 572 12\\ 573 34\\ 575 12\\ 580 10\\ 585 13\\ 590 10.5\\ 595 12.5\\ 600 9.5\\ 605 12\\ 610 10\\ 615 12.5\\ 620 11\\ 625 13.5\\ 630 12\\ 635 14.5\\ 640 14\\ 645 17\\ 650 16\\ 655 19\\ 659 23\\ 662 30\\
665 28\\ 668 32\\ 671 26\\ 674 30\\ 677 24\\ 680 27\\ 683 22\\ 686 20\\ 689 24\\ 692 19\\ 695 35\\ 697 22\\ 699 48\\ 701 4\\ 702 30\\ 704 55\\ 706 25\\ 708 45\\ 710 28\\ 712 50\\ 714 26\\ 716 40\\ 718 24\\ 720 35\\ 722 18\\ 725 15\\ 728 19\\ 731 14\\ 734 18\\ 737 13\\ 740 17\\ 743 12\\ 746 16\\ 749 14\\ 752 18\\ 755 15\\ 758 19\\ 761 16\\ 764 21\\ 767 17\\ 770 22\\ 773 19\\ 776 24\\ 779 20\\ 782 25\\ 785 22\\ 788 26\\ 791 24\\ 794 30\\ 797 38\\ 800 33\\ 803 45\\ 806 40\\ 809 60\\ 811 85\\ 813 50\\ 816 35\\ 819 28\\ 822 24\\ 825 27\\ 828 20\\ 831 24\\ 834 18\\ 837 22\\ 840 16\\ 843 21\\ 846 16\\ 849 20\\ 852 15\\ 855 19\\ 858 16\\ 861 21\\ 864 17\\ 867 22\\ 870 18\\ 873 24\\ 876 19\\ 879 25\\ 882 20\\ 885 26\\ 888 22\\ 891 28\\ 894 23\\ 897 29\\ 900 25\\ 903 30\\ 906 26\\ 909 33\\ 912 28\\ 915 36\\ 918 30\\ 921 40\\ 924 33\\ 927 45\\ 930 36\\ 933 42\\ 936 35\\ 939 38\\ 942 30\\ 945 28\\ 948 20\\ 951 8\\ 953 5\\
955 4.5\\ 958 3.8\\ 961 5.2\\ 964 4.0\\ 967 5.5\\ 970 4.2\\ 973 5.8\\ 976 4.4\\ 979 5.3\\ 982 4.0\\ 985 5.0\\ 988 4.1\\ 991 5.5\\ 994 4.3\\ 997 6.0\\ 1000 4.6\\ 1003 5.4\\ 1006 4.0\\ 1009 5.1\\ 1012 4.3\\ 1015 5.6\\ 1018 4.5\\ 1021 6.2\\ 1024 4.8\\ 1027 5.5\\ 1030 4.2\\ 1033 5.0\\ 1036 3.7\\ 1039 4.6\\ 1042 3.5\\ 1045 4.4\\ 1048 3.6\\ 1051 4.8\\ 1054 3.9\\ 1057 4.7\\ 1060 3.8\\ 1063 5.0\\ 1066 4.0\\ 1069 5.3\\ 1072 4.3\\ 1075 5.6\\ 1078 4.6\\ 1081 6.0\\ 1084 5.0\\ 1087 6.3\\ 1090 5.2\\ 1093 6.8\\ 1096 5.5\\ 1099 7.0\\ 1102 5.8\\ 1105 7.5\\ 1108 6.2\\ 1111 8.0\\ 1114 11\\ 1116 7\\ 1118 16\\ 1120 9\\ 1122 23\\ 1124 8\\ 1127 6.5\\ 1130 5.0\\ 1133 6.5\\ 1136 4.8\\ 1139 6.8\\ 1142 5.0\\ 1145 7.2\\ 1148 5.2\\ 1151 7.0\\ 1154 5.0\\ 1157 6.8\\ 1160 4.8\\ 1163 6.5\\ 1166 5.0\\ 1169 7.2\\ 1172 5.3\\ 1175 7.0\\ 1178 5.0\\ 1181 6.5\\ 1184 4.8\\ 1187 6.2\\ 1190 4.6\\ 1193 6.0\\ 1196 4.5\\ 1199 5.8\\ 1202 4.4\\ 1205 5.5\\ 1208 4.3\\ 1211 5.2\\ 1214 4.5\\ 1217 6.0\\ 1220 9\\ 1222 20\\ 1224 40\\ 1226 25\\ 1228 55\\ 1230 30\\ 1232 45\\ 1235 25\\
1238 30\\ 1241 22\\ 1244 38\\ 1247 25\\ 1250 45\\ 1253 28\\ 1256 40\\ 1259 24\\ 1262 35\\ 1265 22\\ 1268 42\\ 1271 26\\ 1274 36\\ 1277 23\\ 1280 30\\ 1283 21\\ 1286 34\\ 1289 24\\ 1292 40\\ 1295 30\\ 1298 55\\ 1301 42\\ 1304 65\\ 1307 75\\ 1310 60\\ 1313 50\\ 1316 35\\ 1319 25\\ 1322 18\\ 1326 14\\ 1330 11\\ 1334 9\\ 1338 8\\ 1342 7\\ 1346 6\\ 1350 5.5\\ 1354 5\\ 1358 4.6\\ 1362 5.5\\ 1365 3.8\\ 1368 6.0\\ 1371 3.5\\ 1374 5.2\\ 1377 3.2\\ 1380 6.5\\ 1383 4.0\\ 1386 7.0\\ 1389 4.5\\ 1392 7.5\\ 1395 4.8\\ 1398 6.0\\ 1401 3.6\\ 1404 5.0\\ 1407 3.2\\ 1410 4.0\\ 1413 2.6\\ 1416 5.0\\ 1419 8\\ 1422 6\\ 1425 12\\ 1428 9\\ 1431 16\\ 1434 12\\ 1437 30\\ 1439 170\\ 1441 60\\ 1444 35\\ 1447 45\\ 1450 25\\ 1453 20\\ 1456 14\\ 1459 12\\ 1462 18\\ 1465 26\\ 1468 45\\ 1470 90\\ 1472 40\\ 1475 30\\ 1478 45\\ 1481 28\\ 1484 36\\ 1487 25\\ 1490 40\\ 1493 30\\ 1496 50\\ 1499 33\\ 1502 45\\ 1505 30\\ 1508 48\\ 1511 32\\ 1514 42\\ 1517 30\\ 1520 36\\ 1523 20\\ 1526 15\\ 1529 11\\ 1532 8.5\\ 1535 12\\ 1538 9\\ 1541 14\\ 1544 10\\ 1547 16\\ 1550 11\\ 1553 17\\ 1556 12\\ 1559 15\\ 1562 11\\ 1565 16\\ 1568 13\\ 1571 18\\ 1574 15\\ 1577 22\\ 1580 25\\ 1583 30\\ 1586 26\\ 1589 36\\ 1592 30\\ 1595 40\\ 1598 34\\ 1601 45\\ 1604 38\\ 1607 50\\ 1610 60\\ 1613 75\\ 1616 90\\ 1619 70\\ 1622 85\\ 1625 65\\ 1628 55\\ 1631 70\\ 1634 50\\ 1637 80\\ 1640 55\\ 1643 95\\ 1646 60\\ 1649 130\\ 1652 65\\ 1655 85\\ 1658 55\\ 1661 75\\ 1664 60\\ 1667 140\\ 1670 70\\ 1673 180\\ 1676 90\\ 1679 100\\ 1682 120\\ 1685 150\\ 1688 300\\ 1691 500\\ 1694 900\\ 1697 700\\ 1700 1000\\
}\fedptab

\begin{document}
\begin{tikzpicture}

% ---- facies column
\begin{axis}[scale only axis, anchor=north west, at={(0.827cm,-2.577cm)},
  width=1.929cm, height=18.878cm, y dir=reverse, ymin=339, ymax=1704,
  xmin=0, xmax=1, xtick=\empty, ytick=\empty, axis on top,
  axis line style={line width=1.2pt, color=black!85}]
\lay{cSand}{339}{345.6}
\lay{cDrk}{345.6}{352.8}
\lay{cSand}{352.8}{356.4}
\lay{cDrk}{356.4}{360.1}
\lay{cSand}{360.1}{363.7}
\lay{cDrk}{363.7}{366.1}
\lay{cSand}{366.1}{388}
\lay{cShl}{388}{405.8}
\lay{cDrk}{405.8}{407.5}
\lay{cTan}{407.5}{409.5}
\lay{cDrk}{409.5}{411}
\lay{cTan}{411}{413}
\lay{cDrk}{413}{415}
\lay{cShl}{415}{449.2}
\lay{cDrk}{449.2}{451.5}
\lay{cShl}{451.5}{470.9}
\lay{cBrn}{470.9}{475.7}
\lay{cShl}{475.7}{479.3}
\lay{cDrk}{479.3}{484.1}
\lay{cShl}{484.1}{487.7}
\lay{cBrn}{487.7}{495}
\lay{cShl}{495}{507}
\lay{cTan}{507}{511.8}
\lay{cShl}{511.8}{522}
\lay{cTan}{522}{530}
\lay{cShl}{530}{539.5}
\lay{cBrn}{539.5}{542.7}
\lay{cShl}{542.7}{568.4}
\lay{cSand}{568.4}{572.1}
\lay{cShl}{572.1}{608.2}
\lay{cBrn}{608.2}{613}
\lay{cShl}{613}{620.2}
\lay{cTan}{620.2}{625.1}
\lay{cShl}{625.1}{633.5}
\lay{cTan}{633.5}{637.6}
\lay{cShl}{637.6}{655.4}
\lay{cTan}{655.4}{662.3}
\lay{cShl}{662.3}{676.5}
\lay{cTan}{676.5}{699.4}
\lay{cShl}{699.4}{720.5}
\lay{cDrk}{720.5}{726.2}
\lay{cTan}{726.2}{735.8}
\lay{cShl}{735.8}{750.3}
\lay{cTan}{750.3}{758.7}
\lay{cDrk}{758.7}{762}
\lay{cBrn}{762}{765}
\lay{cDrk}{765}{768.5}
\lay{cBrn}{768.5}{772}
\lay{cDrk}{772}{775.9}
\lay{cShl}{775.9}{781.7}
\lay{cDrk}{781.7}{784}
\lay{cShl}{784}{788.6}
\lay{cTan}{788.6}{793.9}
\lay{cDrk}{793.9}{796}
\lay{cShl}{796}{805.8}
\lay{cTan}{805.8}{815.2}
\lay{cSand}{815.2}{825.4}
\lay{cTan}{825.4}{833.2}
\lay{cSand}{833.2}{852}
\lay{cTan}{852}{858.2}
\lay{cBrn}{858.2}{864}
\lay{cDrk}{864}{868}
\lay{cSand}{868}{885}
\lay{cDrk}{885}{888}
\lay{cSand}{888}{897}
\lay{cDrk}{897}{900}
\lay{cSand}{900}{915}
\lay{cShl}{915}{933.5}
\lay{cTan}{933.5}{945.5}
\lay{cSand}{945.5}{947.5}
\lay{cTan}{947.5}{958}
\lay{cSand}{958}{969.5}
\lay{cShl}{969.5}{1030}
\lay{cBrn}{1030}{1034}
\lay{cShl}{1034}{1081.5}
\lay{cSand}{1081.5}{1098}
\lay{cDol}{1098}{1125}
\lay{cSand}{1125}{1129.5}
\lay{cShl}{1129.5}{1201.5}
\lay{cTan}{1201.5}{1212.5}
\lay{cShl}{1212.5}{1229}
\lay{cSand}{1229}{1290.8}
\lay{cTan}{1290.8}{1304}
\lay{cSand}{1304}{1438.5}
\lay{cTan}{1438.5}{1444}
\lay{cSand}{1444}{1649.5}
\lay{cTan}{1649.5}{1663.5}
\lay{cSand}{1663.5}{1675}
\lay{cTan}{1675}{1687}
\lay{cSand}{1687}{1701}
\lay{cTan}{1701}{1704}
\end{axis}

% ---- SP / GR
\begin{axis}[trk, at={(2.756cm,-2.577cm)}, width=2.453cm,
  xmin=0, xmax=350, xtick={70,140,210,280}]
\addplot[black, line width=0.6pt] table[x=v,y=d] {\grtab};
\end{axis}
\begin{axis}[ovl, at={(2.756cm,-2.577cm)}, width=2.453cm, xmin=-72.77, xmax=16.64]
\addplot[cBlue, line width=0.5pt] table[x=v,y=d] {\sptab};
\end{axis}

% ---- MD
\begin{axis}[scale only axis, anchor=north west, at={(5.209cm,-2.577cm)},
  width=1.157cm, height=18.878cm, y dir=reverse, ymin=339, ymax=1704,
  xmin=0, xmax=1, xtick=\empty,
  ytick={314.8,414.8,514.8,614.8,714.8,814.8,914.8,1014.8,1114.8,1214.8,1314.8,1414.8,1514.8,1614.8,1714.8},
  yticklabels={}, minor y tick num=13, ytick pos=both, tick align=inside,
  major tick length=0.16cm, minor tick length=0.08cm,
  every tick/.style={line width=1.1pt, black!75},
  axis on top, axis line style={line width=1.1pt, color=black!85}]
\addplot[fill=mdgray, draw=black!30, line width=0.8pt] coordinates {(0,339) (1,339) (1,641) (0,641)} -- cycle;
\pgfplotsinvokeforeach{414.8,514.8,614.8,714.8,814.8,914.8,1014.8,1114.8,1214.8,1314.8,1414.8,1514.8,1614.8}{
  \node[font=\mdf, text=black!85] at (axis cs:0.5,#1) {#1};
}
\node[font=\mdf, text=black!85] at (axis cs:0.5,352) {340.7};
\end{axis}

% ---- NPRS / RHOB
\begin{axis}[trk, at={(6.366cm,-2.577cm)}, width=2.081cm,
  xmin=-0.15, xmax=0.45, x dir=reverse, xtick={-0.03,0.09,0.21,0.33}]
\addplot[cBlue, line width=0.5pt] table[x=v,y=d] {\nprstab};
\end{axis}
\begin{axis}[ovl, at={(6.366cm,-2.577cm)}, width=2.081cm, xmin=1.92, xmax=2.92]
\addplot[cRed, line width=0.5pt] table[x=v,y=d] {\rhobtab};
\end{axis}

% ---- Tmax
\begin{axis}[trk, at={(8.447cm,-2.577cm)}, width=2.095cm,
  xmin=372.2, xmax=513.8, xtick={400.52,428.84,457.16,485.48}]
\addplot[black, line width=0.5pt] table[x=v,y=d] {\tmaxtab};
\end{axis}

% ---- TOC
\begin{axis}[trk, at={(10.542cm,-2.577cm)}, width=2.080cm,
  xmin=0, xmax=10, xtick={2,4,6,8}]
\addplot[black, line width=0.5pt] table[x=v,y=d] {\toctaba};
\addplot[black, line width=0.5pt] table[x=v,y=d] {\toctabb};
\end{axis}

% ---- FESH / FEDP
\begin{axis}[trk, at={(12.622cm,-2.577cm)}, width=2.095cm,
  xmode=log, xmin=0.2, xmax=2000, xtick={0.5,1,5,10,50,100,500,1000},
  x grid style={line width=0.9pt, color=gridlt}]
\addplot[cRed, line width=0.5pt] table[x=v,y=d] {\fedptab};
\addplot[black, line width=0.5pt] table[x=v,y=d] {\feshtab};
\end{axis}

% ---- formation tops and samples across the tracks
\begin{axis}[ovl, at={(0.827cm,-2.577cm)}, width=13.89cm, xmin=0, xmax=1, clip=false]
\addplot[black!90, line width=1.5pt, dash pattern=on 7pt off 3pt] coordinates {(0,388) (1,400)};
\addplot[black!90, line width=1.5pt, dash pattern=on 7pt off 3pt] coordinates {(0,658) (1,669.8)};
\addplot[black!90, line width=1.5pt, dash pattern=on 7pt off 3pt] coordinates {(0,941.5) (1,952.6)};
\addplot[black!90, line width=1.5pt, dash pattern=on 7pt off 3pt] coordinates {(0,1227.5) (1,1241.4)};
\addplot[only marks, mark=*, mark size=2.75pt, mark options={xscale=1.42, fill=cPur, draw=cPur}]
  coordinates {(0.148,417.8) (0.148,524.4) (0.148,695.7)};
\addplot[only marks, mark=*, mark size=2.75pt, mark options={xscale=1.42, fill=cGrn, draw=cGrn}]
  coordinates {(0.148,927.7) (0.148,1208.6)};
\end{axis}

% ---- header, frame, side labels, legend
\begin{scope}[x=0.01cm, y=-0.01cm]
\fill[hdgray] (82.7,57.9) rectangle (1471.7,252.5);
\draw[line width=0.8pt, fill=white] (82.7,13.8) rectangle (1471.7,57.9);
\node[font=\fontsize{10.8}{12}\selectfont, text=black!90] at (776,36) {{\symfont ⊕}ALTREE-2 [SSTVD]};
% facies strip
\fill[cSand] (84.5,60) rectangle (133.6,96.7);
\fill[cDol] (133.6,60) rectangle (182.7,96.7);
\fill[cTan] (182.7,60) rectangle (227.3,96.7);
\fill[cShl] (227.3,60) rectangle (273,96.7);
\draw[black!70, line width=0.8pt] (84.5,96.7) -- (273,96.7);
\node[font=\hdf] at (178,78) {Facies};
% SP / GR
\hdbox{277}{60}{519}{137}
\node[font=\hdf] at (397,78) {SP};
\draw[cBlue, line width=0.9pt, |-|] (282,97.5) -- (513,97.5);
\node[sc, anchor=west] at (284,117) {-72.77};
\node[sc] at (392,117) {mV};
\node[sc, anchor=east] at (511,117) {16.64};
\hdbox{277}{139}{519}{215}
\node[font=\hdf] at (397,157) {GR};
\draw[black, line width=0.9pt, |-|] (282,175) -- (513,175);
\node[sc, anchor=west] at (284,196) {0.00};
\node[sc] at (384,196) {gAPI};
\node[sc, anchor=east] at (511,196) {350.00};
% MD
\hdbox{521}{60}{636}{137}
\node[font=\hdf] at (578,78) {MD};
% NPRS / RHOB
\hdbox{638}{60}{846}{137}
\node[font=\hdf] at (742,78) {NPRS};
\draw[cBlue, line width=0.9pt, |-|] (643,97.5) -- (841,97.5);
\node[font=\nar\fontsize{5.5}{6}\selectfont] at (731,117) {0.4500 m3/m3 -0.1500};
\hdbox{638}{139}{846}{215}
\node[font=\hdf] at (742,157) {RHOB};
\draw[cRed, line width=0.9pt, |-|] (643,175) -- (841,175);
\node[font=\nar\fontsize{6.6}{7}\selectfont] at (740,196) {1.9200 g/cm3 2.9200};
% Tmax
\hdbox{848}{60}{1054}{137}
\node[font=\hdf] at (950,78) {Tmax};
\draw[black, line width=0.9pt, |-|] (853,97.5) -- (1049,97.5);
\node[inner sep=0.5pt, text=black!90, font=\nar\fontsize{7.6}{9}\selectfont] at (951,117) {372.2 degC 513.8};
% TOC
\hdbox{1056}{60}{1261}{137}
\node[font=\hdf] at (1157,78) {TOC};
\draw[black, line width=0.9pt, |-|] (1061,97.5) -- (1256,97.5);
\node[sc, anchor=west] at (1062,117) {0.00};
\node[sc] at (1161,117) {\%};
\node[sc, anchor=east] at (1254,117) {10.00};
% FESH / FEDP
\hdbox{1263}{60}{1470}{137}
\node[font=\hdf] at (1366,78) {FESH};
\draw[black, line width=0.9pt, |-|] (1268,97.5) -- (1465,97.5);
\node[font=\nar\fontsize{5.1}{6}\selectfont] at (1366,117) {0.2000 ohm.m 2,000.0000};
\hdbox{1263}{139}{1470}{215}
\node[font=\hdf] at (1366,157) {FEDP};
\draw[cRed, line width=0.9pt, |-|] (1268,175) -- (1465,175);
\node[font=\nar\fontsize{5.1}{6}\selectfont] at (1366,196) {0.2000 ohm.m 2,000.0000};
% outer frame
\draw[line width=1.2pt, black!85] (82.7,13.8) rectangle (1471.7,2145.5);
% formations (left)
\draw[line width=1pt, black!85] (2.8,326.6) rectangle (80,700);
\draw[line width=1pt, black!85] (2.8,700) rectangle (80,1088.6);
\draw[line width=1pt, black!85] (2.8,1088.6) rectangle (80,1488);
\draw[line width=1pt, black!85] (2.8,1488) rectangle (80,2145.5);
\node[rotate=90, font=\bfseries\fontsize{9.6}{11}\selectfont, text=black!85] at (41,512) {Upper Velkerri Fm};
\node[rotate=90, font=\bfseries\fontsize{9.6}{11}\selectfont, text=black!85] at (41,900) {Middle Velkerri Fm};
\node[rotate=90, font=\bfseries\fontsize{9.6}{11}\selectfont, text=black!85] at (41,1288) {Lower Velkerri Fm};
\node[rotate=90, font=\bfseries\fontsize{11}{12}\selectfont, text=black!85] at (41,1815) {Bessie Creek Sandstone};
% members (right)
\draw[line width=1pt, black!85] (1471.7,340) rectangle (1557,714);
\draw[line width=1pt, black!85] (1471.7,714) rectangle (1557,1109);
\draw[line width=1pt, black!85] (1471.7,1109) rectangle (1557,1505);
\node[rotate=90, font=\nar\fontsize{12.8}{14}\selectfont, text=black!85] at (1514,527) {Wyworrie Member};
\node[rotate=90, font=\nar\fontsize{12.8}{14}\selectfont, text=black!85] at (1514,910) {Amnugee Member};
\node[rotate=90, font=\nar\fontsize{12.8}{14}\selectfont, text=black!85] at (1514,1308) {Kalala Member};
% legend
\node[anchor=base west, inner sep=0pt, font=\legfont\bfseries\fontsize{18}{20}\selectfont, text=black!85] at (1505,1569) {Sampling};
\draw[fill=cPur, draw=black!75, line width=0.8pt] (1529,1621) ellipse (18 and 14);
\node[anchor=base west, inner sep=0pt, font=\legfont\fontsize{17.8}{20}\selectfont, text=black!85] at (1566,1636) {Unaltered};
\draw[fill=cGrn, draw=black!75, line width=0.8pt] (1529,1688) ellipse (18 and 14);
\node[anchor=base west, inner sep=0pt, font=\legfont\fontsize{17.8}{20}\selectfont, text=black!85] at (1566,1712) {Altered};
\node[anchor=base west, inner sep=0pt, font=\legfont\bfseries\fontsize{18}{20}\selectfont, text=black!85] at (1511,1840) {Lithology};
\draw[fill=lgSand, draw=black!75, line width=1pt] (1511,1881) rectangle (1554,1911);
\node[anchor=base west, inner sep=0pt, font=\legfont\fontsize{17.8}{20}\selectfont, text=black!85] at (1578,1914) {Sandstone};
\draw[fill=lgSS, draw=black!75, line width=1pt] (1511,1948) rectangle (1554,1981);
\node[anchor=base west, inner sep=0pt, font=\legfont\fontsize{17.8}{20}\selectfont, text=black!85] at (1578,1987) {Shale and sand};
\draw[fill=lgShl, draw=black!75, line width=1pt] (1511,2026) rectangle (1554,2057);
\node[anchor=base west, inner sep=0pt, font=\legfont\fontsize{17.8}{20}\selectfont, text=black!85] at (1578,2063) {Shale};
\draw[fill=lgDol, draw=black!75, line width=1pt] (1511,2104) rectangle (1554,2133);
\node[anchor=base west, inner sep=0pt, font=\legfont\fontsize{17.8}{20}\selectfont, text=black!85] at (1580,2141) {Dolomitic siltstone};
\end{scope}

\pgfresetboundingbox
\path[use as bounding box] (0cm,0cm) rectangle (20.67cm,-21.6cm);
\end{tikzpicture}
\end{document}
